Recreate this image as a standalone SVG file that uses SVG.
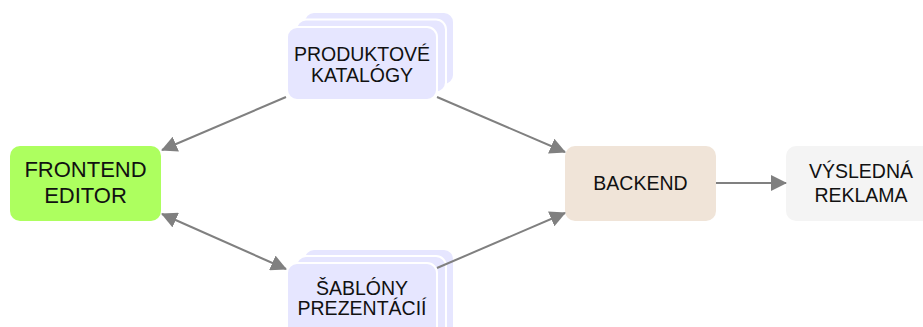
<svg xmlns="http://www.w3.org/2000/svg" width="923" height="327" viewBox="0 0 923 327">
<style>
.lbl{font-family:"Liberation Sans",Arial,sans-serif;font-size:19.5px;fill:#111;text-anchor:middle}
.big{font-size:22px}
.stk{fill:#e6e6ff;stroke:#ffffff;stroke-width:2}
.con{stroke:#808080;stroke-width:2;fill:none}
</style>
<defs>
<marker id="ah" markerUnits="userSpaceOnUse" markerWidth="16" markerHeight="16" refX="15" refY="8" orient="auto-start-reverse" viewBox="0 0 16 16">
<path d="M0,0 L16,8 L0,16 z" fill="#808080"/>
</marker>
</defs>
<rect width="923" height="327" fill="#ffffff"/>
<g id="frontend">
<rect x="10" y="146" width="151" height="75" rx="10" fill="#adff5f"/>
<text class="lbl big" x="85.5" y="177">FRONTEND</text>
<text class="lbl big" x="85.5" y="203">EDITOR</text>
</g>
<g id="katalogy">
<rect class="stk" x="304" y="12" width="150" height="73" rx="10"/>
<rect class="stk" x="296" y="19.5" width="150" height="73" rx="10"/>
<rect class="stk" x="287" y="27" width="150" height="73" rx="10"/>
<text class="lbl" x="362" y="61">PRODUKTOVÉ</text>
<text class="lbl" x="362" y="82">KATALÓGY</text>
</g>
<g id="sablony">
<rect class="stk" x="304" y="249" width="150" height="90" rx="10"/>
<rect class="stk" x="296" y="256" width="150" height="90" rx="10"/>
<rect class="stk" x="287" y="263" width="150" height="90" rx="10"/>
<text class="lbl" x="362" y="295">ŠABLÓNY</text>
<text class="lbl" x="362" y="315">PREZENTÁCIÍ</text>
</g>
<g id="backend">
<rect x="565" y="146" width="151" height="75" rx="10" fill="#f0e4d8"/>
<text class="lbl" x="640.5" y="190">BACKEND</text>
</g>
<g id="reklama">
<rect x="786" y="146" width="150" height="75" rx="10" fill="#f4f4f4"/>
<text class="lbl" x="861" y="178">VÝSLEDNÁ</text>
<text class="lbl" x="861" y="202">REKLAMA</text>
</g>
<g id="connectors">
<line class="con" x1="286" y1="97" x2="162" y2="150" marker-end="url(#ah)"/>
<line class="con" x1="437" y1="97" x2="565" y2="152" marker-end="url(#ah)"/>
<line class="con" x1="162" y1="214" x2="286" y2="269" marker-start="url(#ah)" marker-end="url(#ah)"/>
<line class="con" x1="437" y1="268" x2="565" y2="213" marker-end="url(#ah)"/>
<line class="con" x1="716" y1="183" x2="786" y2="183" marker-end="url(#ah)"/>
</g>
</svg>
